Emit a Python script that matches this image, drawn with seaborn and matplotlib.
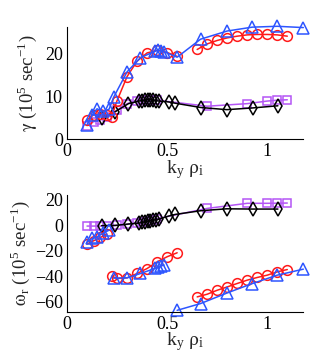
import numpy as np
import pandas as pd
import matplotlib
matplotlib.use("Agg")
import matplotlib.pyplot as plt
import seaborn as sns

# ---------------- data ----------------
# red circles
red_x_a = [0.10, 0.133, 0.167, 0.20, 0.223, 0.25, 0.30, 0.35, 0.40, 0.45, 0.50, 0.55]
red_g_a = [4.5, 5.7, 6.0, 5.7, 5.3, 9.0, 14.6, 18.2, 20.1, 20.7, 20.2, 19.3]
red_x_b = [0.65, 0.70, 0.75, 0.80, 0.85, 0.90, 0.95, 1.00, 1.05, 1.10]
red_g_b = [20.9, 22.2, 23.0, 23.6, 24.0, 24.3, 24.4, 24.4, 24.3, 24.0]
red_w_a1 = [-14.9, -12.3, -9.7, -7.1]                     # x = red_x_a[:4]
red_w_a2 = [-40.0, -41.8, -41.3, -37.9, -34.0, -28.8, -24.8, -21.7]  # x = red_x_a[4:]
red_w_b = [-56.2, -54.1, -51.0, -48.4, -45.7, -43.1, -41.0, -39.2, -36.6, -34.8]

# blue triangles
blue_x = [0.10, 0.125, 0.15, 0.18, 0.21, 0.233, 0.30, 0.367, 0.44, 0.455, 0.47, 0.485,
          0.55, 0.667, 0.80, 0.925, 1.05, 1.18]
blue_g = [3.4, 5.6, 7.1, 6.5, 7.0, 9.8, 15.7, 19.0, 20.5, 20.7, 20.6, 20.4,
          19.1, 23.3, 25.2, 26.1, 26.3, 26.0]
blue_w_1 = [-13.5, -10.5, -9.2, -6.5, -4.0]                           # x = blue_x[:5]
blue_w_2 = [-41.5, -41.3, -37.9, -33.9, -32.8, -32.0, -31.3]          # x = blue_x[5:12]
blue_w_3 = [-66.7, -61.4, -53.1, -45.8, -39.2, -34.5]                 # x = blue_x[12:]

# purple squares
purp_x = [0.10, 0.133, 0.167, 0.20, 0.25, 0.30, 0.35, 0.375, 0.40, 0.425, 0.45,
          0.70, 0.90, 1.00, 1.05, 1.10]
purp_g = [3.2, 4.1, 4.5, 5.2, 6.8, 8.3, 9.0, 9.1, 9.1, 9.1, 9.1,
          7.7, 8.3, 8.9, 9.1, 9.2]
purp_w = [-0.8, -0.8, -0.8, -0.5, -0.3, 0.5, 1.8, 2.6, 3.4, 4.2, 5.0,
          13.0, 17.0, 17.0, 17.1, 17.2]

# black diamonds
blk_x = [0.173, 0.24, 0.307, 0.36, 0.374, 0.388, 0.402, 0.416, 0.43, 0.444, 0.458,
         0.507, 0.54, 0.668, 0.798, 0.927, 1.053]
blk_g = [4.9, 6.4, 8.3, 8.9, 9.0, 9.1, 9.2, 9.2, 9.1, 9.0, 8.9,
         8.7, 8.4, 7.4, 6.9, 7.3, 7.8]
blk_w = [-0.5, -0.3, 0.8, 1.5, 2.0, 2.5, 3.0, 3.4, 3.8, 4.2, 4.6,
         7.0, 8.3, 11.2, 12.7, 12.5, 12.5]

x_ticks = [0, 0.5, 1]
x_ticklabels = ["0", "0.5", "1"]
g_ticks = [0, 10, 20]
w_ticks = [-60, -40, -20, 0, 20]

# ---------------- style ----------------
sns.set_style("white")
plt.rcParams["font.family"] = ["Liberation Serif", "DejaVu Serif"]
plt.rcParams["mathtext.fontset"] = "stix"
plt.rcParams["xtick.direction"] = "in"
plt.rcParams["ytick.direction"] = "in"

RED = "#ff1a1a"
BLUE = "#2d55ff"
PURP = "#b455f5"
BLK = "#000000"

fig = plt.figure(figsize=(3.35, 3.64), dpi=100)
ax1 = fig.add_axes([0.2, 0.6173, 0.7054, 0.3093])
ax2 = fig.add_axes([0.2, 0.1429, 0.7054, 0.3214])


def draw(ax, x, y, color, marker, ms):
    df = pd.DataFrame({"x": x, "y": y})
    sns.lineplot(data=df, x="x", y="y", ax=ax, sort=False, estimator=None,
                 color=color, lw=1.1, marker=marker, markersize=ms,
                 markerfacecolor="none", markeredgecolor=color,
                 markeredgewidth=1.1, clip_on=False)


# top panel
draw(ax1, purp_x, purp_g, PURP, "s", 6)
draw(ax1, blk_x, blk_g, BLK, "d", 7)
draw(ax1, red_x_a, red_g_a, RED, "o", 7)
draw(ax1, red_x_b, red_g_b, RED, "o", 7)
draw(ax1, blue_x, blue_g, BLUE, "^", 8)

# bottom panel
draw(ax2, purp_x, purp_w, PURP, "s", 6)
draw(ax2, blk_x, blk_w, BLK, "d", 7)
draw(ax2, red_x_a[:4], red_w_a1, RED, "o", 7)
draw(ax2, red_x_a[4:], red_w_a2, RED, "o", 7)
draw(ax2, red_x_b, red_w_b, RED, "o", 7)
draw(ax2, blue_x[:5], blue_w_1, BLUE, "^", 8)
draw(ax2, blue_x[5:12], blue_w_2, BLUE, "^", 8)
draw(ax2, blue_x[12:], blue_w_3, BLUE, "^", 8)

for ax in (ax1, ax2):
    ax.set_xlim(0, 1.18)
    ax.set_xticks(x_ticks)
    ax.set_xticklabels(x_ticklabels)
    sns.despine(ax=ax)
    for s in ("left", "bottom"):
        ax.spines[s].set_color("black")
        ax.spines[s].set_linewidth(0.8)
    ax.tick_params(axis="both", labelsize=13, length=3, width=0.8, colors="black",
                   pad=3)
    ax.set_xlabel(r"k$_\mathregular{y}$ $\mathrm{\rho}_\mathregular{i}$", fontsize=14, labelpad=-2)

ax1.set_ylim(0, 26.2)
ax1.set_yticks(g_ticks)
ax1.set_ylabel(r"$\mathrm{\gamma}$ (10$^\mathregular{5}$ sec$^\mathregular{-1}$)", fontsize=13.5, labelpad=4)

ax2.set_ylim(-68, 23.5)
ax2.set_yticks(w_ticks)
ax2.set_ylabel(r"$\mathrm{\omega}_\mathregular{r}$ (10$^\mathregular{5}$ sec$^\mathregular{-1}$)", fontsize=13.5, labelpad=2)

fig.savefig("out.png", dpi=100)
